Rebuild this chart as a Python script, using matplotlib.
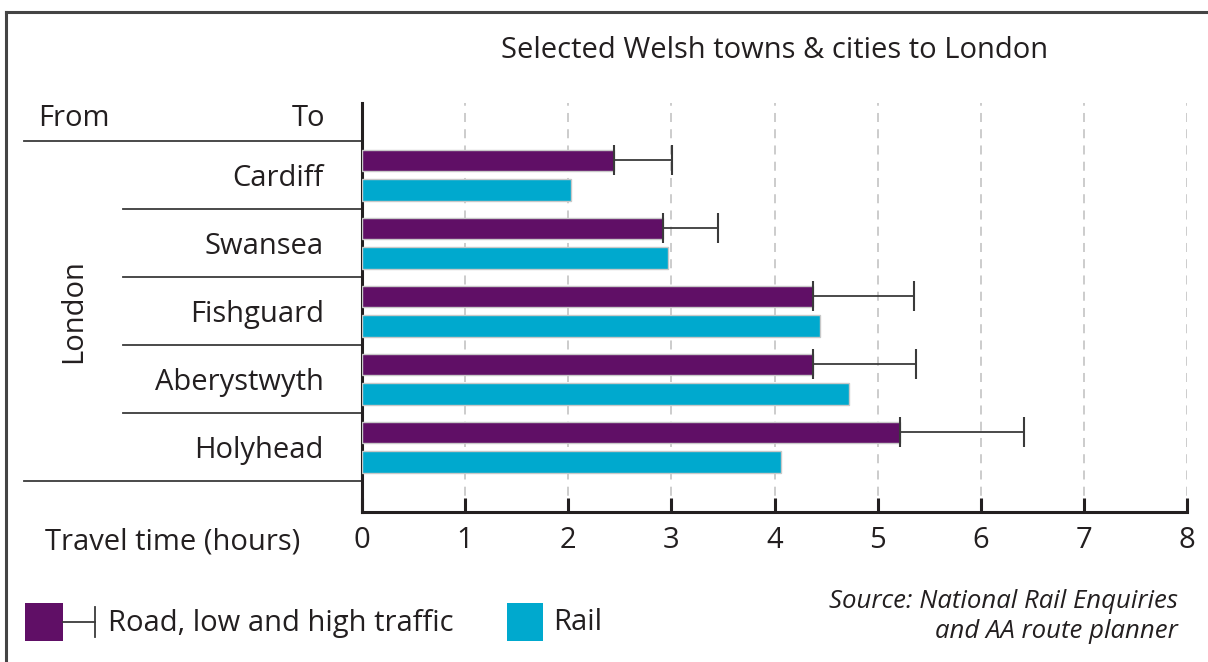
import numpy as np
import matplotlib
matplotlib.use("Agg")
from matplotlib import pyplot as plt
from matplotlib.lines import Line2D
from matplotlib.patches import Rectangle
import matplotlib.transforms as mtransforms

# data (hours)
towns = ["Cardiff", "Swansea", "Fishguard", "Aberystwyth", "Holyhead"]
road_low = [2.44, 2.92, 4.37, 4.37, 5.22]
road_high = [3.01, 3.45, 5.35, 5.37, 6.42]
rail = [2.03, 2.97, 4.44, 4.72, 4.06]
xticks = [0, 1, 2, 3, 4, 5, 6, 7, 8]

PURPLE = "#600f66"
CYAN = "#00a9ce"
TXT = "#231f20"
LINE = "#3a3a3a"
FS = 21

plt.rcParams['font.family'] = ['Open Sans', 'DejaVu Sans']

W, H = 1208, 662
fig = plt.figure(figsize=(W / 100, H / 100), dpi=100)

def fx(px):
    return px / W

def fy(py):
    # text sits a few px high with va="center", nudge callers pass the ref pixel
    return 1 - py / H

# axes box in pixels of the reference
ax = fig.add_axes([fx(362), fy(512), fx(1187) - fx(362), fy(103) - fy(512)])

y = np.arange(len(towns))
bh = 0.32
off = 0.215
err = np.array(road_high) - np.array(road_low)

ax.barh(y - off, road_low, height=bh, color=PURPLE, edgecolor="#c8c8c8", linewidth=1.0, zorder=3)
ax.barh(y + off, rail, height=bh, color=CYAN, edgecolor="#c8c8c8", linewidth=1.0, zorder=3)
ax.errorbar(road_low, y - off, xerr=[np.zeros(len(towns)), err], fmt="none",
            ecolor=LINE, elinewidth=1.3, capsize=10.5, capthick=1.5, zorder=4)

ax.set_xlim(0, 8)
ax.set_ylim(4.5 + 31 / 68, -0.5 - 38 / 68)
ax.set_yticks([])
ax.set_xticks(xticks)
ax.set_xticklabels([str(t) for t in xticks], fontsize=FS, color=TXT)
ax.tick_params(axis="x", direction="in", length=10, width=2.2, color="#231f20", pad=10)
for t in xticks[1:]:
    ax.axvline(t, color="#c8c8c8", linestyle=(0, (5, 4)), linewidth=1.3, zorder=1)

for s in ["top", "right"]:
    ax.spines[s].set_visible(False)
for s in ["left", "bottom"]:
    ax.spines[s].set_linewidth(2.2)
    ax.spines[s].set_color("#231f20")

# table-like labels left of the axis
tr = mtransforms.blended_transform_factory(ax.transAxes, ax.transData)
ax.plot([(24 - 362) / 825, 0], [-0.5, -0.5], transform=tr, color=LINE, lw=1.3, clip_on=False)
ax.plot([(24 - 362) / 825, 0], [4.5, 4.5], transform=tr, color=LINE, lw=1.3, clip_on=False)
for i in range(len(towns) - 1):
    ax.plot([(123 - 362) / 825, 0], [i + 0.5, i + 0.5], transform=tr, color=LINE, lw=1.3, clip_on=False)
for i, name in enumerate(towns):
    ax.text(-38 / 825, i + 0.05, name, transform=tr, ha="right", va="center", fontsize=FS, color=TXT)

fig.text(fx(38), fy(118), "From", ha="left", va="center", fontsize=FS, color=TXT)
fig.text(fx(325), fy(118), "To", ha="right", va="center", fontsize=FS, color=TXT)
fig.text(fx(74), fy(311), "London", ha="center", va="center", rotation=90, fontsize=FS, color=TXT)
fig.text(fx(775), fy(51), "Selected Welsh towns & cities to London", ha="center", va="center",
         fontsize=FS, color=TXT)
fig.text(fx(300), fy(542), "Travel time (hours)", ha="right", va="center", fontsize=FS, color=TXT)

# legend drawn by hand
fig.add_artist(Rectangle((fx(25), fy(641)), fx(38), fy(603) - fy(641), transform=fig.transFigure,
                         facecolor=PURPLE, edgecolor="none"))
fig.add_artist(Line2D([fx(63), fx(95)], [fy(622), fy(622)], transform=fig.transFigure, color=LINE, lw=1.3))
fig.add_artist(Line2D([fx(95), fx(95)], [fy(607), fy(637)], transform=fig.transFigure, color=LINE, lw=1.3))
fig.text(fx(108), fy(623), "Road, low and high traffic", ha="left", va="center", fontsize=FS, color=TXT)
fig.add_artist(Rectangle((fx(507), fy(641)), fx(36), fy(603) - fy(641), transform=fig.transFigure,
                         facecolor=CYAN, edgecolor="none"))
fig.text(fx(553), fy(623), "Rail", ha="left", va="center", fontsize=FS, color=TXT)

fig.text(fx(1178), fy(601), "Source: National Rail Enquiries", ha="right", va="center",
         fontsize=18.5, style="italic", color=TXT)
fig.text(fx(1178), fy(631), "and AA route planner", ha="right", va="center",
         fontsize=18.5, style="italic", color=TXT)

# outer frame: top and left edges only
fig.add_artist(Line2D([fx(6), 1], [fy(12), fy(12)], transform=fig.transFigure, color="#444444", lw=2.2))
fig.add_artist(Line2D([fx(6), fx(6)], [fy(12), 0], transform=fig.transFigure, color="#444444", lw=2.2))

fig.savefig("out.png", dpi=100)
